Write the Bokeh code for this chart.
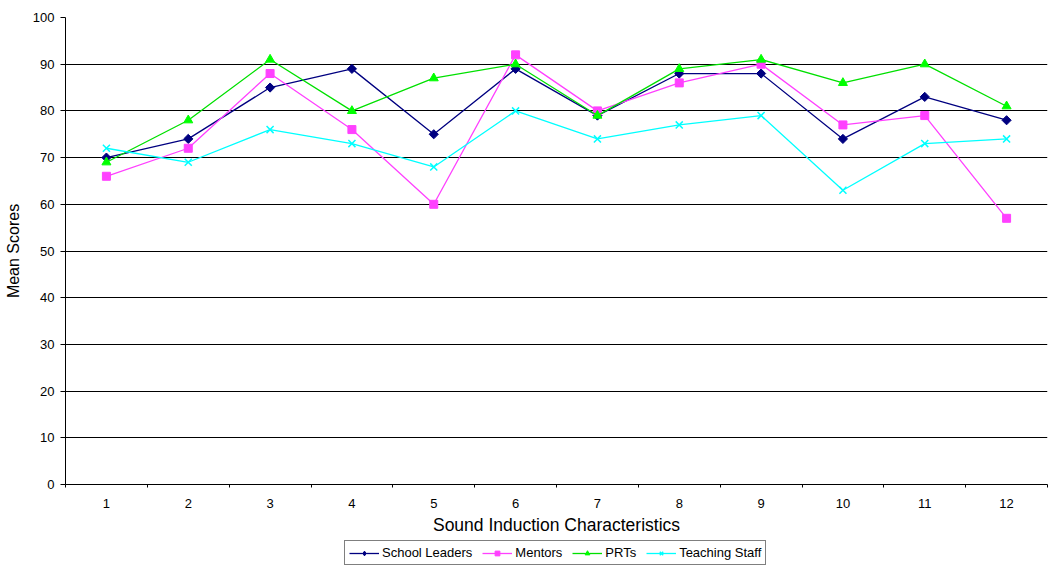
import math
from bokeh.plotting import figure
from bokeh.models import Range1d, FixedTicker, Legend, LegendItem
from bokeh.layouts import column
from bokeh.embed import file_html
from bokeh.resources import INLINE

categories = [1, 2, 3, 4, 5, 6, 7, 8, 9, 10, 11, 12]
school_leaders = [70, 74, 85, 89, 75, 89, 79, 88, 88, 74, 83, 78]
mentors = [66, 72, 88, 76, 60, 92, 80, 86, 90, 77, 79, 57]
prts = [69, 78, 91, 80, 87, 90, 79, 89, 91, 86, 90, 81]
teaching_staff = [72, 69, 76, 73, 68, 80, 74, 77, 79, 63, 73, 74]
y_ticks = list(range(0, 101, 10))

FONT = "Liberation Sans"

p = figure(width=1048, height=540, output_backend="svg", toolbar_location=None,
           x_range=Range1d(0.5, 12.5), y_range=Range1d(0, 100),
           min_border_left=65, min_border_right=1, min_border_top=17, min_border_bottom=56)
p.outline_line_color = None
p.background_fill_color = "white"
p.border_fill_color = "white"

# axes
p.xaxis.ticker = FixedTicker(ticks=categories, minor_ticks=[c - 0.5 for c in categories] + [12.5])
p.xaxis.major_tick_out = 0
p.xaxis.major_tick_in = 0
p.xaxis.minor_tick_out = 3
p.xaxis.minor_tick_in = 0
p.xaxis.minor_tick_line_color = "black"
p.xaxis.axis_line_color = "black"
p.xaxis.major_label_text_font = FONT
p.xaxis.major_label_text_font_size = "13px"
p.xaxis.major_label_text_color = "black"
p.xaxis.major_label_standoff = 11
p.xaxis.axis_label = "Sound Induction Characteristics"
p.xaxis.axis_label_text_font = FONT
p.xaxis.axis_label_text_font_style = "normal"
p.xaxis.axis_label_text_font_size = "17.5px"
p.xaxis.axis_label_text_color = "black"
p.xaxis.axis_label_standoff = 4

p.yaxis.ticker = FixedTicker(ticks=y_ticks, minor_ticks=[])
p.yaxis.major_tick_out = 5
p.yaxis.major_tick_in = 0
p.yaxis.axis_line_color = "black"
p.yaxis.major_label_text_font = FONT
p.yaxis.major_label_text_font_size = "13px"
p.yaxis.major_label_text_color = "black"
p.yaxis.major_label_standoff = 6
p.yaxis.axis_label = "Mean Scores"
p.yaxis.axis_label_text_font = FONT
p.yaxis.axis_label_text_font_style = "normal"
p.yaxis.axis_label_text_font_size = "16px"
p.yaxis.axis_label_text_color = "black"
p.yaxis.axis_label_standoff = 8

p.xgrid.grid_line_color = None
p.ygrid.ticker = FixedTicker(ticks=y_ticks)
p.ygrid.grid_line_color = "black"
p.ygrid.grid_line_width = 1

# name, values, line colour, marker, size, marker colour, marker line width, angle, legend marker, legend size
series = [
    ("School Leaders", school_leaders, "#000080", "square", 6.5, "#000080", 1, math.pi / 4, "diamond", 9),
    ("Mentors", mentors, "#FF40FF", "square", 8, "#FF40FF", 1, 0, "square", 7),
    ("PRTs", prts, "#00E000", "triangle", 9, "#00FF00", 1, 0, "triangle", 8),
    ("Teaching Staff", teaching_staff, "#00FFFF", "x", 10, "#00FFFF", 1.5, 0, "x", 9),
]

# legend-only figure under the chart (its range shows none of the data)
lf = figure(width=1048, height=27, output_backend="svg", toolbar_location=None,
            x_range=Range1d(1000, 1001), y_range=Range1d(1000, 1001),
            min_border=0, min_border_left=0, min_border_right=0,
            min_border_top=0, min_border_bottom=0)
lf.axis.visible = False
lf.grid.visible = False
lf.outline_line_color = None
lf.border_fill_color = "white"
lf.background_fill_color = "white"

items = []
for name, vals, lc, marker, size, mc, lw, ang, lmarker, lsize in series:
    p.line(categories, vals, line_color=lc, line_width=1.3)
    p.scatter(categories, vals, marker=marker, size=size, fill_color=mc,
              line_color=mc, line_width=lw, angle=ang)
    d1 = lf.line(categories, vals, line_color=lc, line_width=1.3)
    d2 = lf.scatter(categories, vals, marker=lmarker, size=lsize, fill_color=mc,
                    line_color=mc, line_width=lw)
    items.append(LegendItem(label=name, renderers=[d1, d2]))

legend = Legend(items=items, orientation="horizontal", location=(279, 2))
legend.label_text_font = FONT
legend.label_text_font_size = "13px"
legend.label_text_color = "black"
legend.glyph_width = 30
legend.glyph_height = 12
legend.label_standoff = 3
legend.spacing = 10
legend.padding = 4
legend.margin = 0
legend.border_line_color = "black"
legend.border_line_width = 1
legend.label_height = 12
lf.add_layout(legend, "center")

open("out.html", "w").write(file_html(column(p, lf, spacing=0), INLINE))
